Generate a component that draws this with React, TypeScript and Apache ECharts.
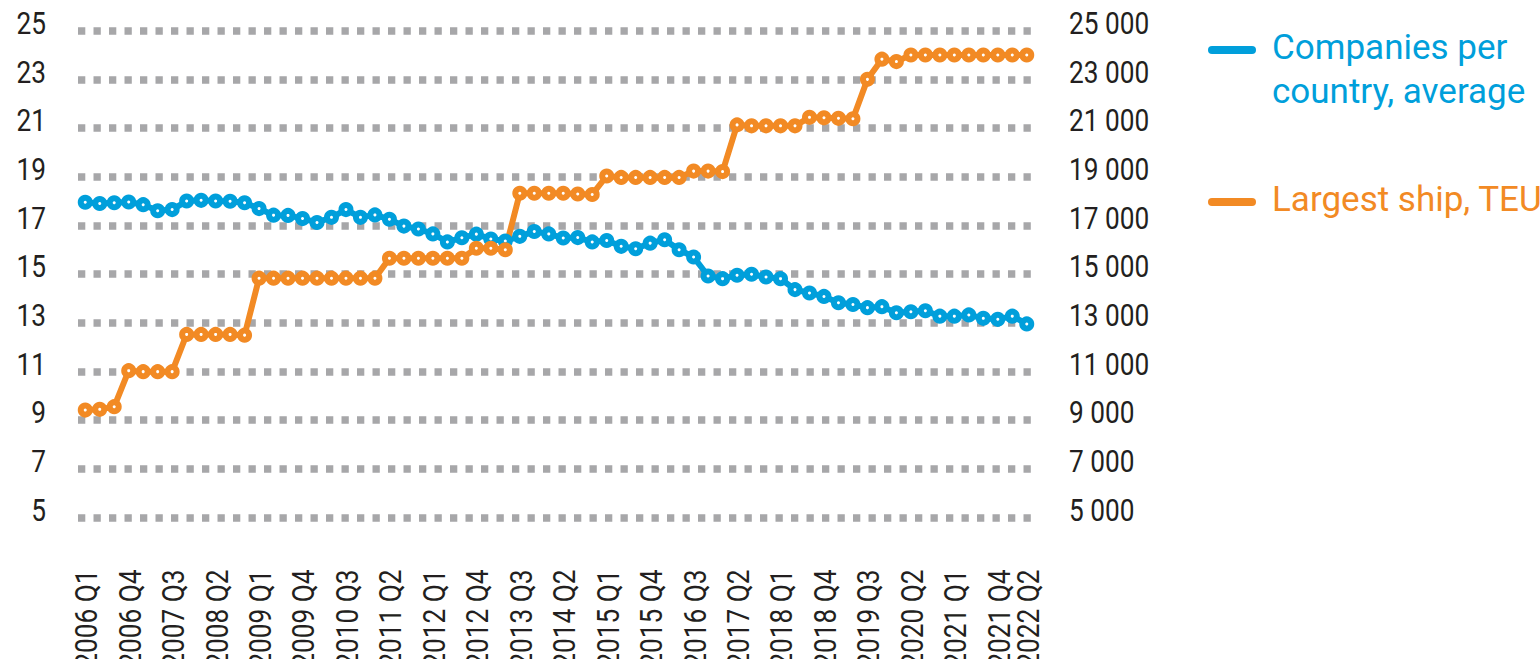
import React, { useEffect, useRef } from "react";
import * as echarts from "echarts";

const categories = [
  "2006 Q1", "2006 Q2", "2006 Q3", "2006 Q4",
  "2007 Q1", "2007 Q2", "2007 Q3", "2007 Q4",
  "2008 Q1", "2008 Q2", "2008 Q3", "2008 Q4",
  "2009 Q1", "2009 Q2", "2009 Q3", "2009 Q4",
  "2010 Q1", "2010 Q2", "2010 Q3", "2010 Q4",
  "2011 Q1", "2011 Q2", "2011 Q3", "2011 Q4",
  "2012 Q1", "2012 Q2", "2012 Q3", "2012 Q4",
  "2013 Q1", "2013 Q2", "2013 Q3", "2013 Q4",
  "2014 Q1", "2014 Q2", "2014 Q3", "2014 Q4",
  "2015 Q1", "2015 Q2", "2015 Q3", "2015 Q4",
  "2016 Q1", "2016 Q2", "2016 Q3", "2016 Q4",
  "2017 Q1", "2017 Q2", "2017 Q3", "2017 Q4",
  "2018 Q1", "2018 Q2", "2018 Q3", "2018 Q4",
  "2019 Q1", "2019 Q2", "2019 Q3", "2019 Q4",
  "2020 Q1", "2020 Q2", "2020 Q3", "2020 Q4",
  "2021 Q1", "2021 Q2", "2021 Q3", "2021 Q4",
  "2022 Q1", "2022 Q2",
];

// Companies per country, average (left axis)
const companiesPerCountry = [
  17.95, 17.9, 17.93, 17.96,
  17.85, 17.6, 17.65, 18.0,
  18.03, 18.0, 17.99, 17.93,
  17.69, 17.42, 17.41, 17.28,
  17.12, 17.33, 17.65, 17.33,
  17.43, 17.25, 16.97, 16.85,
  16.65, 16.32, 16.49, 16.64,
  16.44, 16.36, 16.55, 16.75,
  16.65, 16.48, 16.5, 16.32,
  16.38, 16.14, 16.04, 16.27,
  16.41, 16.0, 15.7, 14.92,
  14.81, 14.95, 14.99, 14.88,
  14.81, 14.36, 14.22, 14.08,
  13.82, 13.75, 13.62, 13.66,
  13.41, 13.45, 13.49, 13.27,
  13.27, 13.32, 13.18, 13.14,
  13.27, 12.95,
];

// Largest ship, TEU (right axis)
const largestShipTEU = [
  9410, 9440, 9550, 11030,
  10990, 10990, 10990, 12520,
  12520, 12520, 12520, 12490,
  14830, 14830, 14830, 14830,
  14830, 14830, 14830, 14830,
  14830, 15650, 15650, 15650,
  15650, 15650, 15650, 16060,
  16060, 16000, 18320, 18320,
  18320, 18320, 18290, 18270,
  19030, 18970, 18970, 18970,
  18970, 18970, 19230, 19230,
  19210, 21130, 21090, 21090,
  21090, 21090, 21440, 21420,
  21400, 21380, 23000, 23830,
  23730, 24000, 24000, 24000,
  24000, 24000, 24000, 24000,
  24000, 24000,
];

const seriesNames = ["Companies per country, average", "Largest ship, TEU"];
const legendLines = [["Companies per", "country, average"], ["Largest ship, TEU"]];
const leftTicks = [5, 7, 9, 11, 13, 15, 17, 19, 21, 23, 25];
const rightTicks = [5000, 7000, 9000, 11000, 13000, 15000, 17000, 19000, 21000, 23000, 25000];

const BLUE = "#009FDB";
const ORANGE = "#F28A24";
const GRID_GRAY = "#A7A7A9";
const TEXT = "#231F20";
const AXIS_FONT = "Roboto, 'Liberation Sans', sans-serif";
const LEGEND_FONT = "Roboto, 'Noto Sans', sans-serif";
const AXIS_FONT_SIZE = 32;
const CONDENSE = 0.82;

const fmtThousands = (v: number) => String(v).replace(/\B(?=(\d{3})+(?!\d))/g, " ");
const showXLabel = (i: number) => i % 3 === 0 || i === categories.length - 1;

export default function App() {
  const ref = useRef<HTMLDivElement>(null);

  useEffect(() => {
    if (!ref.current) return;
    const chart = echarts.init(ref.current, undefined, { renderer: "svg" });
    const option: any = {
      animation: false,
      grid: {
        left: 78,
        right: 506,
        top: 30.7,
        bottom: 141.6,
        containLabel: false,
        outerBoundsMode: "none",
      },
      xAxis: {
        type: "category",
        data: categories,
        boundaryGap: true,
        axisLine: { show: false },
        axisTick: { show: false },
        splitLine: { show: false },
        axisLabel: { show: false },
      },
      yAxis: [
        {
          type: "value",
          position: "left",
          min: leftTicks[0],
          max: leftTicks[leftTicks.length - 1],
          interval: leftTicks[1] - leftTicks[0],
          axisLine: { show: false },
          axisTick: { show: false },
          splitLine: {
            show: true,
            lineStyle: { color: GRID_GRAY, width: 7.5, type: [7.3, 8.2] },
          },
          axisLabel: { show: false },
        },
        {
          type: "value",
          position: "right",
          min: rightTicks[0],
          max: rightTicks[rightTicks.length - 1],
          interval: rightTicks[1] - rightTicks[0],
          axisLine: { show: false },
          axisTick: { show: false },
          splitLine: { show: false },
          axisLabel: { show: false },
        },
      ],
      series: [
        {
          name: seriesNames[0],
          type: "line",
          yAxisIndex: 0,
          data: companiesPerCountry,
          symbol: "circle",
          symbolSize: 9,
          showAllSymbol: true,
          lineStyle: { color: BLUE, width: 6 },
          itemStyle: { color: "#ffffff", borderColor: BLUE, borderWidth: 6 },
          emphasis: { disabled: true },
        },
        {
          name: seriesNames[1],
          type: "line",
          yAxisIndex: 1,
          data: largestShipTEU,
          symbol: "circle",
          symbolSize: 9,
          showAllSymbol: true,
          lineStyle: { color: ORANGE, width: 6 },
          itemStyle: { color: "#ffffff", borderColor: ORANGE, borderWidth: 6 },
          emphasis: { disabled: true },
        },
      ],
    };
    chart.setOption(option);

    // Axis labels drawn as condensed text, positioned through the chart's own scales
    const labelEls: any[] = [];
    const axisY = chart.convertToPixel({ yAxisIndex: 0 }, leftTicks[0]) as number;
    const gridLeft = chart.convertToPixel({ xAxisIndex: 0 }, categories[0]) as number;
    const bandHalf =
      ((chart.convertToPixel({ xAxisIndex: 0 }, categories[1]) as number) - gridLeft) / 2;
    const plotLeft = gridLeft - bandHalf;
    const plotRight =
      (chart.convertToPixel({ xAxisIndex: 0 }, categories[categories.length - 1]) as number) + bandHalf;

    const labelStyle = (text: string, align: string) => ({
      text,
      fill: TEXT,
      fontSize: AXIS_FONT_SIZE,
      fontFamily: AXIS_FONT,
      align,
      verticalAlign: "middle",
    });

    leftTicks.forEach((v) => {
      const py = chart.convertToPixel({ yAxisIndex: 0 }, v) as number;
      labelEls.push({
        type: "text",
        x: plotLeft - 32,
        y: py - 7.5,
        scaleX: CONDENSE,
        silent: true,
        style: labelStyle(String(v), "right"),
      });
    });
    rightTicks.forEach((v) => {
      const py = chart.convertToPixel({ yAxisIndex: 1 }, v) as number;
      labelEls.push({
        type: "text",
        x: plotRight + 35,
        y: py - 7.5,
        scaleX: CONDENSE,
        silent: true,
        style: labelStyle(fmtThousands(v), "left"),
      });
    });
    categories.forEach((c, i) => {
      if (!showXLabel(i)) return;
      const px = chart.convertToPixel({ xAxisIndex: 0 }, c) as number;
      labelEls.push({
        type: "text",
        x: px + 1,
        y: axisY + 52,
        rotation: Math.PI / 2,
        scaleX: CONDENSE,
        silent: true,
        style: labelStyle(c, "right"),
      });
    });

    const legendEls: any[] = [
      {
        type: "line",
        shape: { x1: 1212, y1: 50, x2: 1252, y2: 50 },
        style: { stroke: BLUE, lineWidth: 8, lineCap: "round" },
      },
      {
        type: "text",
        style: {
          text: legendLines[0].join("\n"),
          x: 1272,
          y: 25.5,
          fill: BLUE,
          fontSize: 35,
          fontFamily: LEGEND_FONT,
          verticalAlign: "top",
          lineHeight: 44,
        },
      },
      {
        type: "line",
        shape: { x1: 1212, y1: 202, x2: 1252, y2: 202 },
        style: { stroke: ORANGE, lineWidth: 8, lineCap: "round" },
      },
      {
        type: "text",
        style: {
          text: legendLines[1].join("\n"),
          x: 1272,
          y: 199.5,
          fill: ORANGE,
          fontSize: 35,
          fontFamily: LEGEND_FONT,
          verticalAlign: "middle",
        },
      },
    ];

    chart.setOption({ graphic: [...legendEls, ...labelEls] });
    return () => chart.dispose();
  }, []);

  return (
    <div
      ref={ref}
      style={{ position: "absolute", left: 0, top: 0, width: 1540, height: 659 }}
    />
  );
}
